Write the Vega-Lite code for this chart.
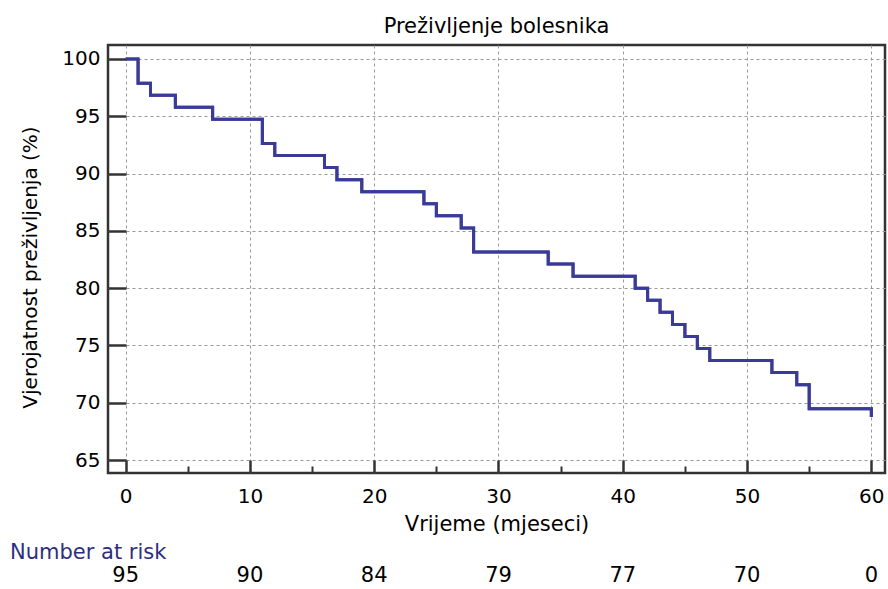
{
  "$schema": "https://vega.github.io/schema/vega-lite/v6.json",
  "padding": {"left": 10, "top": 14, "right": 2, "bottom": 0},
  "background": "white",
  "spacing": 6,
  "config": {
    "font": "DejaVu Sans",
    "view": {"stroke": "#333333", "strokeWidth": 2.5}
  },
  "vconcat": [
    {
      "width": 777,
      "height": 428,
      "title": {"text": "Preživljenje bolesnika", "fontSize": 21, "fontWeight": "normal", "font": "DejaVu Sans", "color": "#000000", "frame": "group", "anchor": "middle", "offset": 8},
      "data": {"values": [
        {"t": 0, "s": 100},
        {"t": 1, "s": 97.89},
        {"t": 2, "s": 96.84},
        {"t": 4, "s": 95.79},
        {"t": 7, "s": 94.74},
        {"t": 11, "s": 92.63},
        {"t": 12, "s": 91.58},
        {"t": 16, "s": 90.53},
        {"t": 17, "s": 89.47},
        {"t": 19, "s": 88.42},
        {"t": 24, "s": 87.37},
        {"t": 25, "s": 86.32},
        {"t": 27, "s": 85.26},
        {"t": 28, "s": 83.16},
        {"t": 34, "s": 82.11},
        {"t": 36, "s": 81.05},
        {"t": 41, "s": 80.0},
        {"t": 42, "s": 78.95},
        {"t": 43, "s": 77.89},
        {"t": 44, "s": 76.84},
        {"t": 45, "s": 75.79},
        {"t": 46, "s": 74.74},
        {"t": 47, "s": 73.68},
        {"t": 52, "s": 72.63},
        {"t": 54, "s": 71.58},
        {"t": 55, "s": 69.47},
        {"t": 60, "s": 69.47},
        {"t": 60, "s": 68.75}
      ]},
      "resolve": {"axis": {"x": "independent"}},
      "layer": [
        {
          "mark": {"type": "line", "interpolate": "step-after", "color": "#3a3a98", "strokeWidth": 3, "clip": true},
          "encoding": {
            "x": {
              "field": "t", "type": "quantitative",
              "scale": {"domain": [-1.42, 61.1], "nice": false, "zero": false},
              "axis": {
                "orient": "bottom",
                "values": [0, 10, 20, 30, 40, 50, 60],
                "title": "Vrijeme (mjeseci)", "titleFontSize": 21, "titleFontWeight": "normal", "titleColor": "#000000", "titlePadding": 7,
                "labelFontSize": 20, "labelColor": "#000000", "labelPadding": 26, "labelFlush": false, "labelOverlap": false,
                "tickSize": -13, "tickColor": "#333333", "tickWidth": 2.5,
                "domain": false,
                "grid": true, "gridColor": "#9a9a9a", "gridDash": [3, 3], "gridWidth": 1
              }
            },
            "y": {
              "field": "s", "type": "quantitative",
              "scale": {"domain": [63.87, 101.22], "nice": false, "zero": false},
              "axis": {
                "values": [65, 70, 75, 80, 85, 90, 95, 100],
                "title": "Vjerojatnost preživljenja (%)", "titleFontSize": 20, "titleFontWeight": "normal", "titleColor": "#000000", "titlePadding": 21, "titleY": 222,
                "labelFontSize": 20, "labelColor": "#000000", "labelPadding": 26, "labelFlush": false, "labelOverlap": false,
                "tickSize": -18, "tickColor": "#333333", "tickWidth": 2.5,
                "domain": false,
                "grid": true, "gridColor": "#9a9a9a", "gridDash": [3, 3], "gridWidth": 1
              }
            }
          }
        },
        {
          "mark": {"type": "line", "interpolate": "step-after", "color": "#3a3a98", "strokeWidth": 3, "clip": true},
          "encoding": {
            "x": {
              "field": "t", "type": "quantitative",
              "axis": {
                "orient": "bottom",
                "values": [5, 15, 25, 35, 45, 55],
                "title": null, "labels": false, "grid": false, "domain": false,
                "tickSize": -7, "tickColor": "#333333", "tickWidth": 2
              }
            },
            "y": {"field": "s", "type": "quantitative"}
          }
        }
      ]
    },
    {
      "width": 777,
      "height": 26,
      "view": {"stroke": null},
      "title": {"text": "Number at risk", "anchor": "start", "frame": "group", "dx": -98, "fontSize": 21, "fontWeight": "normal", "color": "#2e2e80", "offset": 0},
      "data": {"values": [
        {"t": 0, "n": 95},
        {"t": 10, "n": 90},
        {"t": 20, "n": 84},
        {"t": 30, "n": 79},
        {"t": 40, "n": 77},
        {"t": 50, "n": 70},
        {"t": 60, "n": 0}
      ]},
      "mark": {"type": "text", "fontSize": 21, "color": "#000000"},
      "encoding": {
        "x": {"field": "t", "type": "quantitative", "scale": {"domain": [-1.42, 61.1], "nice": false, "zero": false}, "axis": null},
        "text": {"field": "n", "type": "quantitative"}
      }
    }
  ]
}
